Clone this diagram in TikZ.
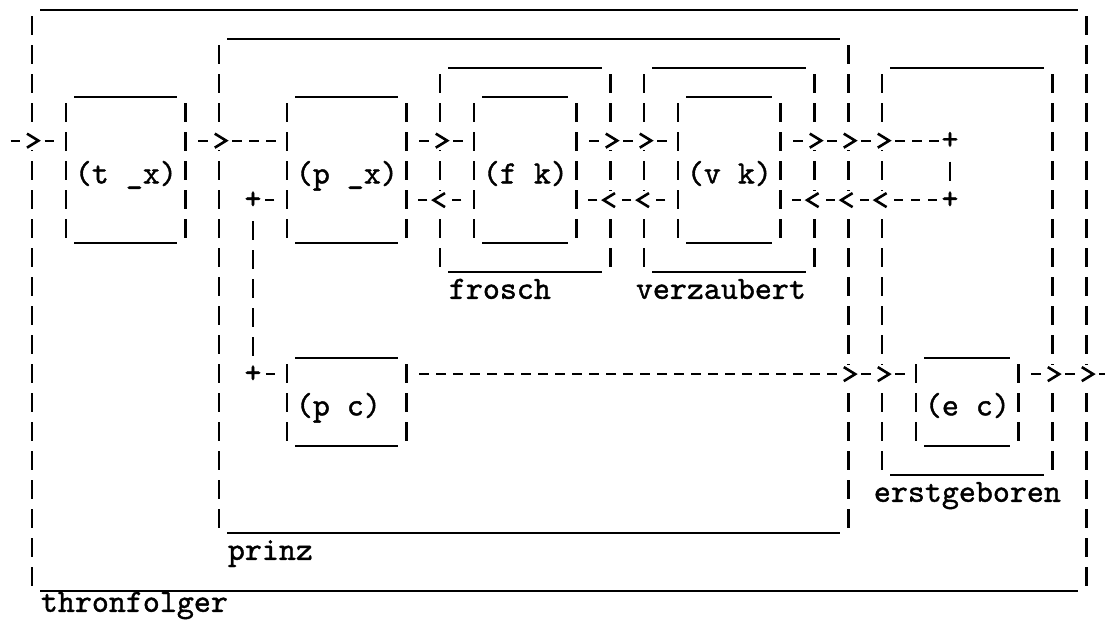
\documentclass[tikz,border=0pt]{standalone}
\usepackage{fontspec}
\newfontfamily\typewriter[Extension=.otf, FakeBold=1.2]{lmmono10-regular}
\usetikzlibrary{positioning, calc, decorations.markings}
\newcommand{\asciitext}{\typewriter\fontsize{16.19pt}{14.5pt}\selectfont}

\tikzset{
	rule/.style={
			line width=0.9pt
		},
	side/.style={
			line width=1.35pt,
			dash pattern=on 9.5pt off 5pt,
			dash phase=11.5pt
		},
	asciibox/.style 2 args={
			rectangle,
			inner sep=0pt,
			anchor=north west,
			minimum width=#1*8.5pt,
			minimum height=#2*14.5pt,
			text height=13.5pt,
			text depth=0pt,
			font=\asciitext,
			append after command={
					([xshift=8.5pt]\tikzlastnode.north west) edge[rule] ([xshift=-8.5pt]\tikzlastnode.north east)
					([xshift=8.5pt]\tikzlastnode.south west) edge[rule] ([xshift=-8.5pt]\tikzlastnode.south east)
					([xshift=4.25pt]\tikzlastnode.north west) edge[side] ([xshift=4.25pt]\tikzlastnode.south west)
					([xshift=-4.25pt]\tikzlastnode.north east) edge[side] ([xshift=-4.25pt]\tikzlastnode.south east)
				}
		},
	boxname/.style={
			inner sep=0pt,
			anchor=base west,
			font=\asciitext
		},
	junction/.style={
			inner sep=0pt,
			minimum width=8.5pt,
			minimum height=14.5pt,
			font=\asciitext
		},
	wire/.style={
			draw,
			line width=1.1pt,
			dash pattern=on 4.6pt off 3.9pt,
			dash phase=6.45pt
		},
	tipat/.style={
			postaction={decorate, decoration={markings,
							mark=at position #1*8.5pt with {
									\fill[white] (-3pt,-4.8pt) rectangle (3pt,4.8pt);
									\draw[solid, line width=1.3pt] (-2.5pt,3.5pt) -- (3.2pt,0pt) -- (-2.5pt,-3.5pt);
								}}}
		}
}

\begin{document}
\begin{tikzpicture}[x=8.5pt, y=-14.5pt]
\useasboundingbox (-0.882,0) rectangle (64.118,21.345);

% frames
\node[asciibox={63}{20}] (thron) at (0.5,0.345) {};
\node[asciibox={38}{17}] (prinz) at (11.5,1.345) {};
\node[asciibox={11}{7}] (frosch) at (24.5,2.345) {};
\node[asciibox={11}{7}] (verz) at (36.5,2.345) {};
\node[asciibox={11}{14}] (erst) at (50.5,2.345) {};

% inner boxes
\node[asciibox={8}{5}] (tx) at (2.5,3.345) {(t \_x)};
\node[asciibox={8}{5}] (px) at (15.5,3.345) {(p \_x)};
\node[asciibox={7}{5}] (fk) at (26.5,3.345) {(f k)};
\node[asciibox={7}{5}] (vk) at (38.5,3.345) {(v k)};
\node[asciibox={8}{3}] (pc) at (15.5,12.345) {(p c)\hphantom{x}};
\node[asciibox={7}{3}] (ec) at (52.5,12.345) {(e c)};

% names under the frames
\node[boxname] (thron-name) at ([xshift=8.5pt, yshift=-10.5pt]thron.south west) {thronfolger};
\node[boxname] (prinz-name) at ([xshift=8.5pt, yshift=-13.5pt]prinz.south west) {prinz};
\node[boxname] (frosch-name) at ([xshift=8.5pt, yshift=-13.5pt]frosch.south west) {frosch};
\node[boxname] (verz-name) at ([yshift=-13.5pt]verz.south west) {verzaubert};
\node[boxname] (erst-name) at ([yshift=-13.5pt]erst.south west) {erstgeboren};

\coordinate (in) at (-0.5,4.85);
\coordinate (out) at (64.5,12.9);
\node[junction] (jr1) at (55,4.85) {+};
\node[junction] (jr2) at (55,6.9) {+};
\node[junction] (jl1) at (14,6.9) {+};
\node[junction] (jl2) at (14,12.9) {+};

% forward
\draw[wire, tipat=1.5] (in) -- (tx.west |- in);
\draw[wire, tipat=1.5] (tx.east |- in) -- (px.west |- in);
\draw[wire, tipat=1.5] (px.east |- in) -- (fk.west |- in);
\draw[wire, tipat/.list={1.5,3.5}] (fk.east |- in) -- (vk.west |- in);
\draw[wire, tipat/.list={1.5,3.5,5.5}] (vk.east |- in) -- (jr1.west);
\draw[side] (jr1.south) -- (jr2.north);

% back
\draw[wire, tipat/.list={3.5,5.5,7.5}] (jr2.west) -- (vk.east |- jr2);
\draw[wire, tipat/.list={1.5,3.5}] (vk.west |- jr2) -- (fk.east |- jr2);
\draw[wire, tipat=1.5] (fk.west |- jr2) -- (px.east |- jr2);
\draw[wire] (px.west |- jr2) -- (jl1.east);
\draw[side] (jl1.south) -- (jl2.north);

% p c to erstgeboren and out
\draw[wire] (jl2.east) -- (pc.west |- jl2);
\draw[wire, tipat/.list={25.5,27.5}] (pc.east |- jl2) -- (ec.west |- jl2);
\draw[wire, tipat/.list={1.5,3.5}] (ec.east |- jl2) -- (out);
\end{tikzpicture}
\end{document}
